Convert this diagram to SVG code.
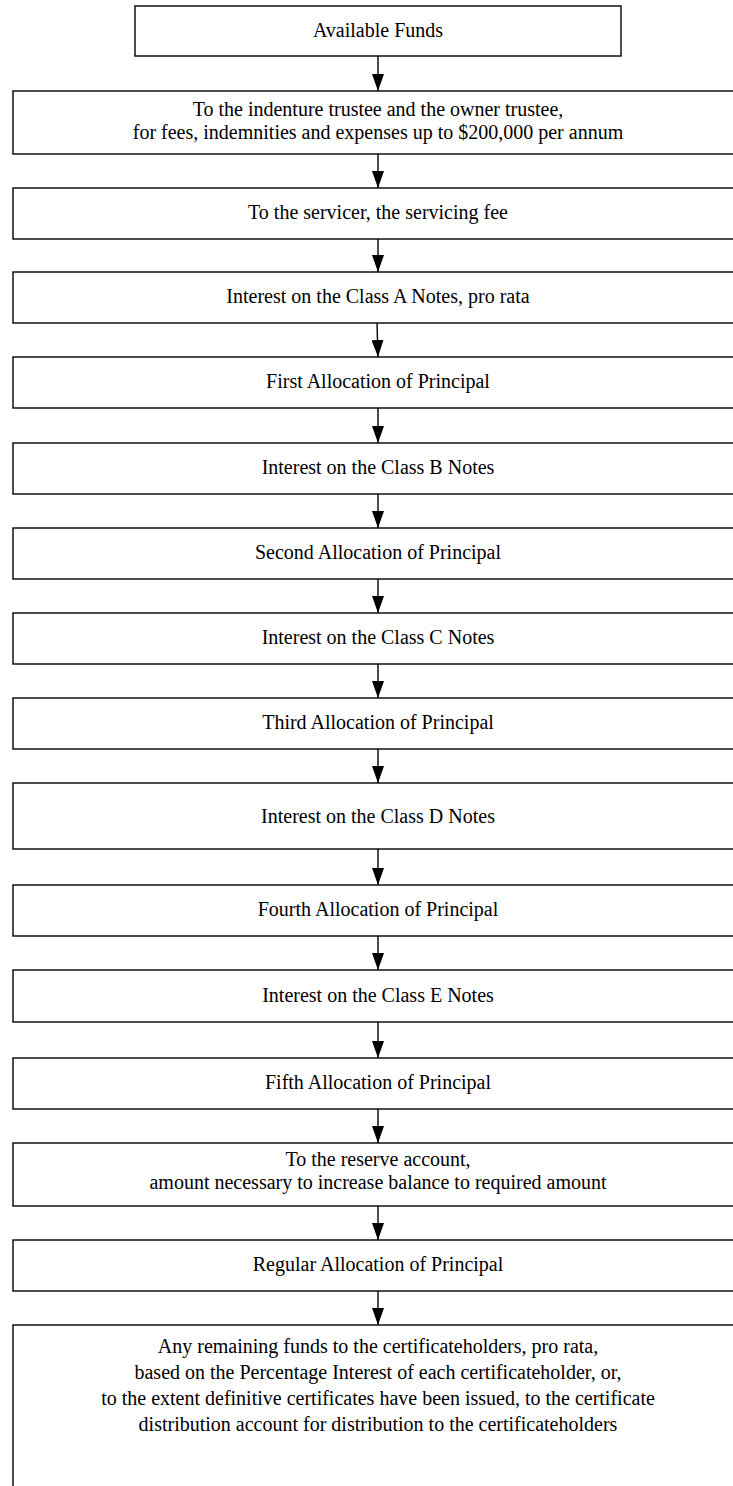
<svg xmlns="http://www.w3.org/2000/svg" width="733" height="1486" viewBox="0 0 733 1486">
<style>
  .box { fill: #ffffff; stroke: #000000; stroke-width: 1.4; }
  .lbl { font-family: "Liberation Serif", "Times New Roman", serif; font-size: 20px; fill: #000000; text-anchor: middle; }
  .conn { stroke: #000000; stroke-width: 1.4; fill: none; marker-end: url(#arrow); }
</style>
<defs>
  <marker id="arrow" viewBox="0 0 17 12" refX="17" refY="6" markerWidth="17" markerHeight="12" markerUnits="userSpaceOnUse" orient="auto">
    <path d="M0,0 L17,6 L0,12 Z" fill="#000000"/>
  </marker>
</defs>
<rect width="733" height="1486" fill="#ffffff"/>
<g id="connectors">
  <line class="conn" x1="378" y1="56" x2="378" y2="91"/>
  <line class="conn" x1="378" y1="154" x2="378" y2="188"/>
  <line class="conn" x1="378" y1="239" x2="378" y2="272"/>
  <line class="conn" x1="377" y1="323" x2="378" y2="357"/>
  <line class="conn" x1="378" y1="408" x2="378" y2="443"/>
  <line class="conn" x1="378" y1="494" x2="378" y2="528"/>
  <line class="conn" x1="378" y1="579" x2="378" y2="613"/>
  <line class="conn" x1="378" y1="664" x2="378" y2="698"/>
  <line class="conn" x1="378" y1="749" x2="378" y2="783"/>
  <line class="conn" x1="378" y1="849" x2="378" y2="885"/>
  <line class="conn" x1="378" y1="936" x2="378" y2="970"/>
  <line class="conn" x1="378" y1="1022" x2="378" y2="1058"/>
  <line class="conn" x1="378" y1="1109" x2="378" y2="1143"/>
  <line class="conn" x1="378" y1="1206" x2="378" y2="1240"/>
  <line class="conn" x1="378" y1="1291" x2="378" y2="1325"/>
</g>
<g id="n1"><rect class="box" x="135" y="6" width="486" height="50"/><text class="lbl" x="378" y="37">Available Funds</text></g>
<g id="n2"><rect class="box" x="13" y="91" width="740" height="63"/><text class="lbl" x="378" y="116">To the indenture trustee and the owner trustee,</text><text class="lbl" x="378" y="139">for fees, indemnities and expenses up to $200,000 per annum</text></g>
<g id="n3"><rect class="box" x="13" y="188" width="740" height="51"/><text class="lbl" x="378" y="219">To the servicer, the servicing fee</text></g>
<g id="n4"><rect class="box" x="13" y="272" width="740" height="51"/><text class="lbl" x="378" y="303">Interest on the Class A Notes, pro rata</text></g>
<g id="n5"><rect class="box" x="13" y="357" width="740" height="51"/><text class="lbl" x="378" y="388">First Allocation of Principal</text></g>
<g id="n6"><rect class="box" x="13" y="443" width="740" height="51"/><text class="lbl" x="378" y="474">Interest on the Class B Notes</text></g>
<g id="n7"><rect class="box" x="13" y="528" width="740" height="51"/><text class="lbl" x="378" y="559">Second Allocation of Principal</text></g>
<g id="n8"><rect class="box" x="13" y="613" width="740" height="51"/><text class="lbl" x="378" y="644">Interest on the Class C Notes</text></g>
<g id="n9"><rect class="box" x="13" y="698" width="740" height="51"/><text class="lbl" x="378" y="729">Third Allocation of Principal</text></g>
<g id="n10"><rect class="box" x="13" y="783" width="740" height="66"/><text class="lbl" x="378" y="823">Interest on the Class D Notes</text></g>
<g id="n11"><rect class="box" x="13" y="885" width="740" height="51"/><text class="lbl" x="378" y="916">Fourth Allocation of Principal</text></g>
<g id="n12"><rect class="box" x="13" y="970" width="740" height="52"/><text class="lbl" x="378" y="1002">Interest on the Class E Notes</text></g>
<g id="n13"><rect class="box" x="13" y="1058" width="740" height="51"/><text class="lbl" x="378" y="1089">Fifth Allocation of Principal</text></g>
<g id="n14"><rect class="box" x="13" y="1143" width="740" height="63"/><text class="lbl" x="378" y="1166">To the reserve account,</text><text class="lbl" x="378" y="1189">amount necessary to increase balance to required amount</text></g>
<g id="n15"><rect class="box" x="13" y="1240" width="740" height="51"/><text class="lbl" x="378" y="1271">Regular Allocation of Principal</text></g>
<g id="n16"><rect class="box" x="13" y="1325" width="740" height="200"/><text class="lbl" x="378" y="1353">Any remaining funds to the certificateholders, pro rata,</text><text class="lbl" x="378" y="1379">based on the Percentage Interest of each certificateholder, or,</text><text class="lbl" x="378" y="1405">to the extent definitive certificates have been issued, to the certificate</text><text class="lbl" x="378" y="1431">distribution account for distribution to the certificateholders</text></g>
</svg>
